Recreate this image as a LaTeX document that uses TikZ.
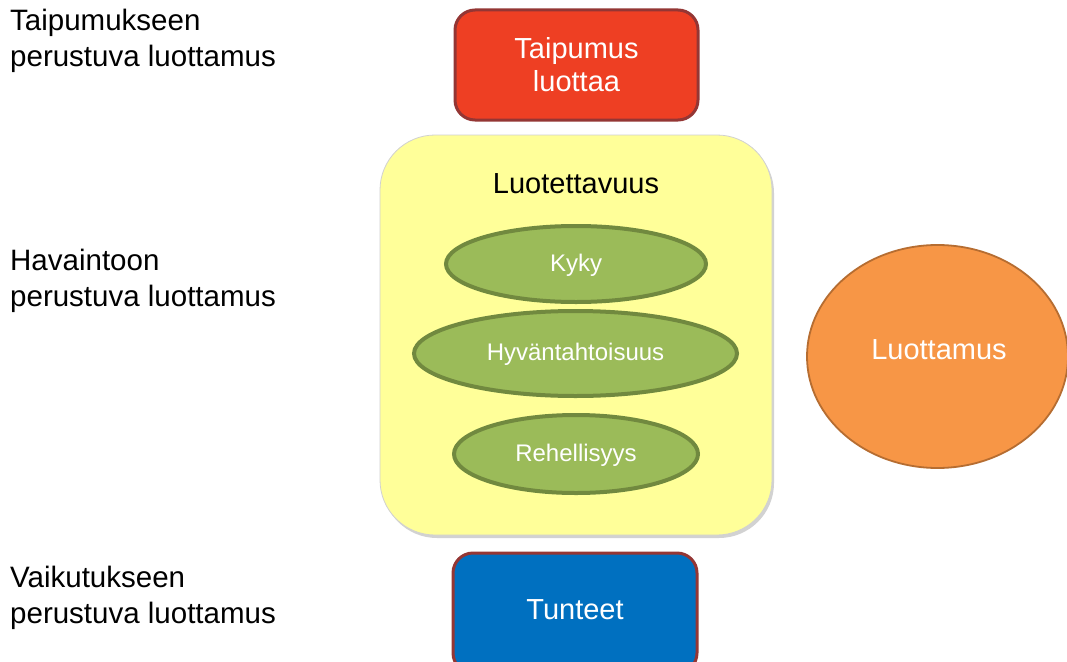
\documentclass[tikz,border=0pt]{standalone}
\usepackage{fontspec}
\setmainfont{Liberation Sans}
\usetikzlibrary{shapes.geometric,shadows}
\definecolor{boxred}{HTML}{EE3F23}
\definecolor{edgered}{HTML}{943634}
\definecolor{paleyellow}{HTML}{FFFF99}
\definecolor{leafgreen}{HTML}{9BBB59}
\definecolor{leafedge}{HTML}{71893F}
\definecolor{warmorange}{HTML}{F79646}
\definecolor{orangeedge}{HTML}{B66D31}
\definecolor{deepblue}{HTML}{0070C0}
\tikzset{
  sidelabel/.style={anchor=west, align=left, inner sep=0pt,
    font=\fontsize{29.5}{36}\selectfont, text=black},
  roundbox/.style={rectangle, rounded corners=20pt, line width=3pt,
    draw=edgered, text=white, align=center,
    font=\fontsize{29}{33}\selectfont, inner sep=0pt},
  bigpanel/.style={rectangle, rounded corners=55pt, fill=paleyellow,
    draw=black!18, line width=0.8pt,
    drop shadow={shadow xshift=2pt, shadow yshift=-3pt, opacity=0.35}},
  trait/.style={ellipse, fill=leafgreen, draw=leafedge, line width=4pt,
    inner sep=0pt},
  traittext/.style={text=white, font=\fontsize{24}{28}\selectfont, inner sep=0pt},
  trustoval/.style={ellipse, fill=warmorange, draw=orangeedge, line width=1.8pt,
    inner sep=0pt},
  whitetext/.style={text=white, font=\fontsize{29}{33}\selectfont, inner sep=0pt}
}
\begin{document}
\begin{tikzpicture}[x=1pt, y=-1pt]
  \useasboundingbox (0,0) rectangle (1067,661);
  \fill[white] (0,0) rectangle (1067,661);

  % row labels on the left
  \node[sidelabel] (lab1) at (10,41) {Taipumukseen\\perustuva luottamus};
  \node[sidelabel] (lab2) at (10,281) {Havaintoon\\perustuva luottamus};
  \node[sidelabel] (lab3) at (10,598) {Vaikutukseen\\perustuva luottamus};

  % disposition box
  \node[roundbox, fill=boxred, minimum width=243pt, minimum height=110pt]
    (disp) at (576.5,65) {Taipumus\\luottaa};

  % trustworthiness panel with its three traits
  \node[bigpanel, minimum width=392pt, minimum height=400pt] (panel) at (576,335) {};
  \node[font=\fontsize{29}{33}\selectfont, inner sep=0pt] (paneltitle) at (576,184) {Luotettavuus};
  \node[trait, minimum width=260pt, minimum height=76pt] (kyky) at (576,264) {};
  \node[traittext] (kykytext) at (576,265.5) {Kyky};
  \node[trait, minimum width=323pt, minimum height=85pt] (hyva) at (575.5,353.5) {};
  \node[traittext] (hyvatext) at (575.5,354.5) {Hyväntahtoisuus};
  \node[trait, minimum width=244pt, minimum height=78pt] (rehe) at (576,454) {};
  \node[traittext] (rehetext) at (576,455.5) {Rehellisyys};

  % trust
  \node[trustoval, minimum width=261pt, minimum height=223pt] (trust) at (937.5,356.5) {};
  \node[whitetext] (trusttext) at (939,350) {Luottamus};

  % emotions box (runs past the lower edge)
  \node[roundbox, fill=deepblue, minimum width=244pt, minimum height=120pt]
    (emo) at (575,613) {};
  \node[whitetext] (emotext) at (575,610) {Tunteet};
\end{tikzpicture}
\end{document}
